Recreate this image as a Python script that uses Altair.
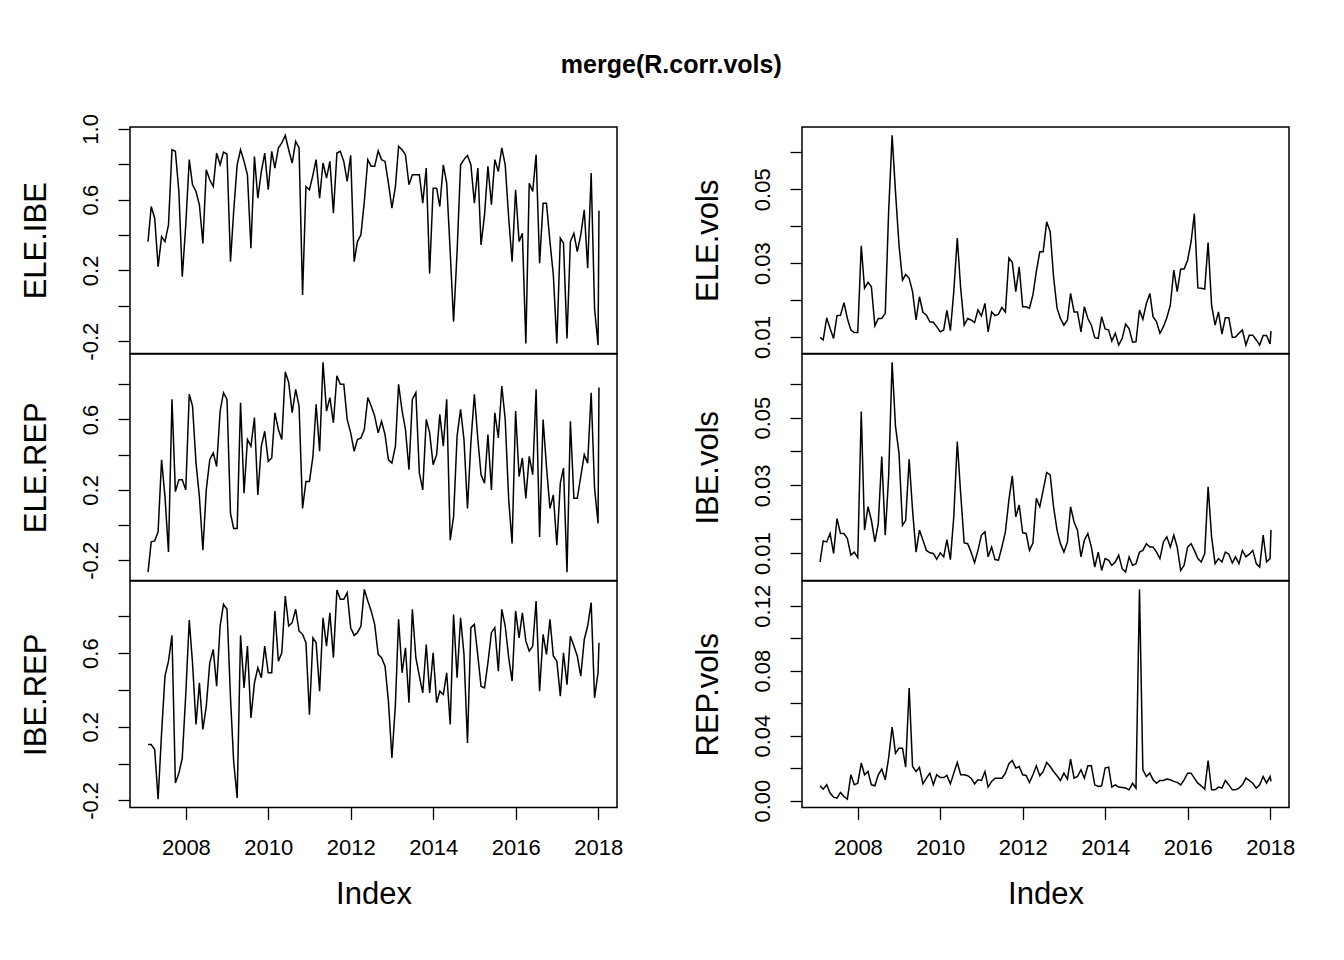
import calendar
import altair as alt
import pandas as pd

# ---- index: month ends Jan 2007 .. Dec 2017, plus a final partial month ----
month_ends = [f"{y}-{m:02d}-{calendar.monthrange(y, m)[1]:02d}"
              for y in range(2007, 2018) for m in range(1, 13)]
dates = month_ends + ["2018-01-08"]


def dec_year(s):
    ts = pd.Timestamp(s)
    n = 366 if calendar.isleap(ts.year) else 365
    return ts.year + (ts.dayofyear - 1) / n


years = [dec_year(d) for d in dates]

ELE_IBE = [0.363, 0.561, 0.495, 0.221, 0.391, 0.363, 0.457, 0.882, 0.873, 0.646,
           0.164, 0.457, 0.826, 0.684, 0.646, 0.571, 0.353, 0.769, 0.712, 0.674,
           0.863, 0.797, 0.869, 0.858, 0.249, 0.533, 0.797, 0.882, 0.816, 0.740,
           0.325, 0.844, 0.608, 0.759, 0.863, 0.656, 0.873, 0.778, 0.892, 0.920,
           0.963, 0.882, 0.807, 0.929, 0.892, 0.061, 0.674, 0.656, 0.740, 0.826,
           0.608, 0.807, 0.722, 0.816, 0.523, 0.863, 0.873, 0.816, 0.703, 0.850,
           0.249, 0.363, 0.401, 0.589, 0.826, 0.788, 0.788, 0.876,
           0.826, 0.816, 0.693, 0.552, 0.674, 0.901, 0.882, 0.854, 0.684, 0.740,
           0.740, 0.740, 0.580, 0.778, 0.183, 0.665, 0.665, 0.561, 0.797, 0.693,
           0.306, -0.090, 0.306, 0.797, 0.826, 0.850, 0.797, 0.580, 0.778, 0.344,
           0.514, 0.788, 0.571, 0.826, 0.759, 0.892, 0.797, 0.495, 0.249, 0.656,
           0.363, 0.410, -0.213, 0.693, 0.646, 0.854, 0.240, 0.580, 0.580, 0.363,
           0.174, -0.213, 0.382, 0.353, -0.185, 0.363, 0.410, 0.306, 0.401, 0.542,
           0.212, 0.750, -0.015, -0.222, 0.537]

ELE_REP = [-0.267, -0.095, -0.090, -0.038, 0.371, 0.162, -0.152, 0.714, 0.190, 0.257,
           0.257, 0.200, 0.743, 0.676, 0.352, 0.162, -0.143, 0.200, 0.371, 0.410,
           0.333, 0.648, 0.752, 0.714, 0.067, -0.019, -0.019, 0.695, 0.181, 0.486,
           0.448, 0.610, 0.171, 0.448, 0.533, 0.362, 0.381, 0.638, 0.543, 0.486,
           0.870, 0.810, 0.638, 0.771, 0.676, 0.095, 0.248, 0.248, 0.390, 0.686,
           0.419, 0.924, 0.648, 0.724, 0.581, 0.848, 0.800, 0.800, 0.600, 0.524,
           0.419, 0.486, 0.495, 0.543, 0.724, 0.676, 0.619, 0.524,
           0.590, 0.514, 0.371, 0.352, 0.448, 0.800, 0.648, 0.543, 0.314, 0.714,
           0.752, 0.295, 0.200, 0.600, 0.524, 0.343, 0.400, 0.629, 0.448, 0.714,
           -0.086, 0.048, 0.505, 0.657, 0.486, 0.095, 0.467, 0.743, 0.486, 0.286,
           0.238, 0.514, 0.200, 0.638, 0.495, 0.790, 0.600, 0.143, -0.105, 0.648,
           0.276, 0.381, 0.152, 0.390, 0.286, 0.771, -0.067, 0.600, 0.333, 0.095,
           0.171, -0.114, 0.238, 0.324, -0.267, 0.590, 0.152, 0.152, 0.276, 0.400,
           0.352, 0.752, 0.210, 0.010, 0.781]

IBE_REP = [0.103, 0.103, 0.076, -0.193, 0.166, 0.475, 0.556, 0.696, -0.106, -0.052,
           0.030, 0.375, 0.780, 0.547, 0.212, 0.438, 0.185, 0.311, 0.547, 0.620,
           0.420, 0.747, 0.865, 0.838, 0.357, 0.012, -0.187, 0.696, 0.411, 0.638,
           0.248, 0.438, 0.520, 0.466, 0.638, 0.493, 0.493, 0.829, 0.556, 0.602,
           0.910, 0.747, 0.765, 0.838, 0.720, 0.702, 0.656, 0.266, 0.683, 0.656,
           0.393, 0.792, 0.638, 0.819, 0.575, 0.943, 0.892, 0.892, 0.928, 0.738,
           0.696, 0.711, 0.747, 0.946, 0.883, 0.829, 0.756, 0.593,
           0.575, 0.529, 0.339, 0.030, 0.321, 0.783, 0.493, 0.629, 0.330, 0.838,
           0.575, 0.475, 0.384, 0.647, 0.384, 0.602, 0.330, 0.393, 0.375, 0.493,
           0.212, 0.810, 0.466, 0.792, 0.593, 0.112, 0.738, 0.756, 0.584, 0.420,
           0.411, 0.547, 0.711, 0.738, 0.502, 0.838, 0.747, 0.575, 0.448, 0.829,
           0.683, 0.819, 0.665, 0.611, 0.638, 0.883, 0.393, 0.702, 0.593, 0.783,
           0.584, 0.556, 0.366, 0.602, 0.429, 0.692, 0.638, 0.584, 0.475, 0.674,
           0.747, 0.874, 0.357, 0.493, 0.656]

ELE_vols = [0.0099, 0.0092, 0.0152, 0.0123, 0.0096, 0.0158, 0.0159, 0.0193, 0.0150, 0.0119,
            0.0112, 0.0112, 0.0347, 0.0232, 0.0248, 0.0236, 0.0130, 0.0150, 0.0150, 0.0164,
            0.0439, 0.0646, 0.0493, 0.0349, 0.0254, 0.0269, 0.0259, 0.0223, 0.0146, 0.0209,
            0.0167, 0.0159, 0.0141, 0.0140, 0.0128, 0.0114, 0.0119, 0.0172, 0.0117, 0.0223,
            0.0368, 0.0232, 0.0132, 0.0150, 0.0146, 0.0139, 0.0173, 0.0157, 0.0191, 0.0114,
            0.0168, 0.0158, 0.0162, 0.0180, 0.0168, 0.0314, 0.0302, 0.0223, 0.0290, 0.0182,
            0.0182, 0.0178, 0.0214, 0.0277, 0.0331, 0.0331, 0.0412, 0.0385,
            0.0263, 0.0178, 0.0150, 0.0132, 0.0146, 0.0218, 0.0168, 0.0168, 0.0114, 0.0182,
            0.0150, 0.0132, 0.0098, 0.0096, 0.0155, 0.0122, 0.0119, 0.0089, 0.0110, 0.0078,
            0.0096, 0.0135, 0.0123, 0.0086, 0.0087, 0.0173, 0.0148, 0.0191, 0.0218, 0.0155,
            0.0141, 0.0110, 0.0128, 0.0152, 0.0186, 0.0281, 0.0223, 0.0284, 0.0284, 0.0308,
            0.0358, 0.0434, 0.0233, 0.0232, 0.0230, 0.0356, 0.0186, 0.0132, 0.0168, 0.0108,
            0.0152, 0.0152, 0.0099, 0.0100, 0.0110, 0.0119, 0.0078, 0.0105, 0.0105, 0.0092,
            0.0078, 0.0104, 0.0104, 0.0081, 0.0116]

IBE_vols = [0.0074, 0.0136, 0.0133, 0.0158, 0.0099, 0.0202, 0.0158, 0.0158, 0.0143, 0.0094,
            0.0103, 0.0087, 0.0518, 0.0168, 0.0237, 0.0197, 0.0133, 0.0187, 0.0385, 0.0153,
            0.0326, 0.0663, 0.0474, 0.0395, 0.0182, 0.0197, 0.0377, 0.0227, 0.0103, 0.0168,
            0.0138, 0.0108, 0.0101, 0.0099, 0.0082, 0.0101, 0.0089, 0.0140, 0.0081, 0.0207,
            0.0429, 0.0276, 0.0130, 0.0128, 0.0103, 0.0072, 0.0108, 0.0153, 0.0163, 0.0089,
            0.0118, 0.0081, 0.0079, 0.0118, 0.0163, 0.0257, 0.0328, 0.0207, 0.0242, 0.0160,
            0.0158, 0.0108, 0.0130, 0.0262, 0.0237, 0.0286, 0.0338, 0.0331,
            0.0237, 0.0168, 0.0128, 0.0103, 0.0133, 0.0237, 0.0192, 0.0168, 0.0089, 0.0138,
            0.0158, 0.0118, 0.0059, 0.0103, 0.0049, 0.0084, 0.0079, 0.0064, 0.0074, 0.0094,
            0.0054, 0.0044, 0.0089, 0.0064, 0.0069, 0.0103, 0.0108, 0.0128, 0.0118, 0.0118,
            0.0103, 0.0084, 0.0133, 0.0148, 0.0118, 0.0153, 0.0118, 0.0049, 0.0064, 0.0118,
            0.0128, 0.0108, 0.0084, 0.0074, 0.0099, 0.0296, 0.0148, 0.0069, 0.0084, 0.0074,
            0.0103, 0.0097, 0.0071, 0.0089, 0.0069, 0.0108, 0.0089, 0.0097, 0.0108, 0.0069,
            0.0059, 0.0153, 0.0074, 0.0084, 0.0168]

REP_vols = [0.0091, 0.0070, 0.0097, 0.0046, 0.0021, 0.0015, 0.0050, 0.0025, 0.0009, 0.0159,
            0.0097, 0.0107, 0.0231, 0.0159, 0.0179, 0.0097, 0.0091, 0.0159, 0.0194, 0.0128,
            0.0262, 0.0453, 0.0292, 0.0323, 0.0323, 0.0206, 0.0694, 0.0210, 0.0179, 0.0204,
            0.0103, 0.0138, 0.0169, 0.0097, 0.0159, 0.0142, 0.0142, 0.0155, 0.0103, 0.0169,
            0.0235, 0.0159, 0.0159, 0.0153, 0.0138, 0.0103, 0.0128, 0.0124, 0.0179, 0.0083,
            0.0118, 0.0138, 0.0138, 0.0138, 0.0169, 0.0227, 0.0247, 0.0200, 0.0210, 0.0159,
            0.0155, 0.0111, 0.0159, 0.0214, 0.0153, 0.0179, 0.0235, 0.0210,
            0.0179, 0.0153, 0.0124, 0.0169, 0.0132, 0.0255, 0.0138, 0.0148, 0.0190, 0.0138,
            0.0214, 0.0214, 0.0097, 0.0087, 0.0091, 0.0200, 0.0206, 0.0083, 0.0097, 0.0083,
            0.0081, 0.0077, 0.0066, 0.0107, 0.0077, 0.1301, 0.0190, 0.0148, 0.0169, 0.0128,
            0.0107, 0.0124, 0.0124, 0.0132, 0.0128, 0.0118, 0.0112, 0.0097, 0.0128, 0.0169,
            0.0169, 0.0138, 0.0107, 0.0091, 0.0070, 0.0247, 0.0066, 0.0066, 0.0083, 0.0077,
            0.0124, 0.0097, 0.0066, 0.0066, 0.0077, 0.0097, 0.0138, 0.0124, 0.0107, 0.0077,
            0.0097, 0.0148, 0.0107, 0.0148, 0.0118]

# axis ticks and the labels R kept
corr_ticks = [-0.2, 0.0, 0.2, 0.4, 0.6, 0.8, 1.0]
vol_ticks = [0.01, 0.02, 0.03, 0.04, 0.05, 0.06]
rep_ticks = [0.0, 0.02, 0.04, 0.06, 0.08, 0.10, 0.12]
year_ticks = [2008, 2010, 2012, 2014, 2016, 2018]

FONT = "Liberation Sans"
PW, PH = 487, 226.5

xlo, xhi = min(years), max(years)
xpad = 0.04 * (xhi - xlo)
xdom = [xlo - xpad, xhi + xpad]


def label_expr(pairs):
    expr = "''"
    for val, lab in reversed(pairs):
        expr = f"abs(datum.value - ({val})) < 1e-6 ? '{lab}' : {expr}"
    return expr


def panel(name, vals, ticks, labels, bottom):
    df = pd.DataFrame({"t": years, "v": vals})
    lo, hi = min(vals), max(vals)
    pad = 0.04 * (hi - lo)
    if bottom:
        xaxis = alt.Axis(values=year_ticks, format="d", title="Index",
                         labelPadding=18, titlePadding=21)
    else:
        xaxis = None
    yaxis = alt.Axis(values=ticks, labelExpr=label_expr(labels), title=name,
                     labelAngle=270, labelAlign="center", labelBaseline="alphabetic",
                     labelPadding=21, titlePadding=27)
    return alt.Chart(df).mark_line(color="black", strokeWidth=1.5).encode(
        x=alt.X("t:Q", scale=alt.Scale(domain=xdom, nice=False, zero=False), axis=xaxis),
        y=alt.Y("v:Q", scale=alt.Scale(domain=[lo - pad, hi + pad], nice=False, zero=False),
                axis=yaxis),
    ).properties(width=PW, height=PH)


corr_labels = [(-0.2, "-0.2"), (0.2, "0.2"), (0.6, "0.6"), (1.0, "1.0")]
vol_labels = [(0.01, "0.01"), (0.03, "0.03"), (0.05, "0.05")]
rep_labels = [(0.0, "0.00"), (0.04, "0.04"), (0.08, "0.08"), (0.12, "0.12")]

left = alt.vconcat(
    panel("ELE.IBE", ELE_IBE, corr_ticks, corr_labels, False),
    panel("ELE.REP", ELE_REP, corr_ticks[:-1], corr_labels[:-1], False),
    panel("IBE.REP", IBE_REP, corr_ticks[:-1], corr_labels[:-1], True),
    spacing=0, bounds="flush",
)
right = alt.vconcat(
    panel("ELE.vols", ELE_vols, vol_ticks, vol_labels, False),
    panel("IBE.vols", IBE_vols, vol_ticks, vol_labels, False),
    panel("REP.vols", REP_vols, rep_ticks, rep_labels, True),
    spacing=0, bounds="flush",
)

chart = alt.hconcat(left, right, spacing=67).properties(
    title=alt.TitleParams("merge(R.corr.vols)", font=FONT, fontSize=25, fontWeight="bold",
                          color="black", anchor="middle", dx=14, offset=35),
    padding={"left": 11, "top": 44, "right": 10, "bottom": 10},
    background="white",
).configure_view(
    stroke="black", strokeWidth=1.5
).configure_axis(
    labelFont=FONT, titleFont=FONT, labelFontSize=22, titleFontSize=31,
    titleFontWeight="normal", labelColor="black", titleColor="black",
    tickColor="black", tickSize=12, tickWidth=1.3, domain=False, grid=False,
    labelOverlap=False, labelFlush=False,
)

chart.save("out.html", embed_options={"renderer": "svg", "actions": False})
